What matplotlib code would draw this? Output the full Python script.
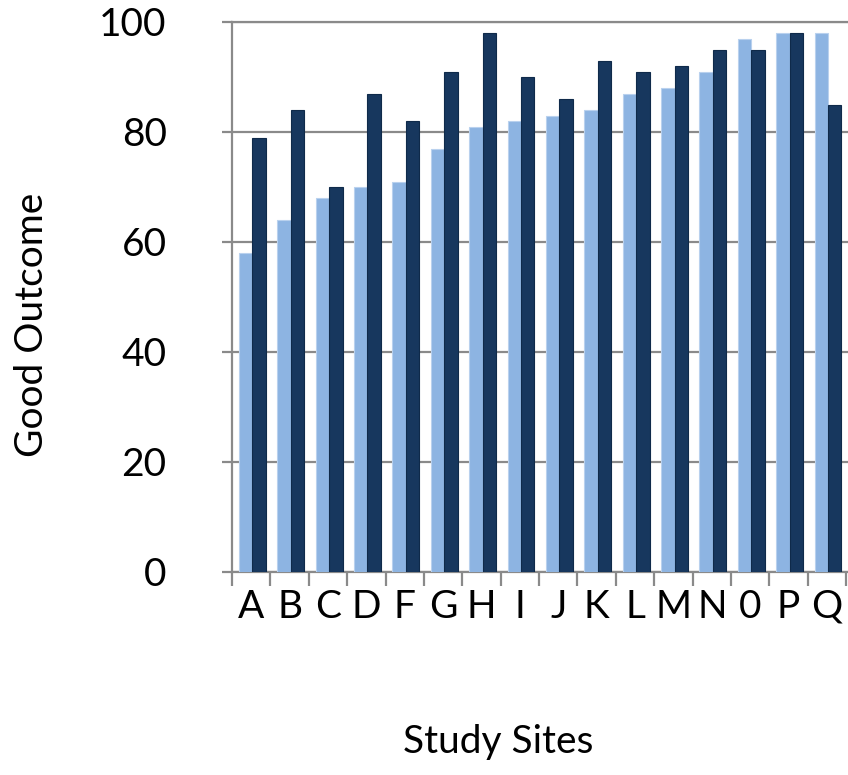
import matplotlib
matplotlib.use("Agg")
import matplotlib.pyplot as plt
import numpy as np

plt.rcParams['font.family'] = ['Lato', 'DejaVu Sans']

sites = ["A", "B", "C", "D", "F", "G", "H", "I", "J", "K", "L", "M", "N", "0", "P", "Q"]
series_light = [58, 64, 68, 70, 71, 77, 81, 82, 83, 84, 87, 88, 91, 97, 98, 98]
series_dark = [79, 84, 70, 87, 82, 91, 98, 90, 86, 93, 91, 92, 95, 95, 98, 85]
yticks = [0, 20, 40, 60, 80, 100]

W, H = 848, 775
fig = plt.figure(figsize=(W / 100, H / 100), dpi=100)
left, right = 232, 848
top, bottom = 22, 572
ax = fig.add_axes([left / W, 1 - bottom / H, (right - left) / W, (bottom - top) / H])

x = np.arange(len(sites))
bw = 0.35
light = "#8DB4E2"
dark = "#17375E"
grid_c = "#8A8A8A"

ax.bar(x - bw / 2 + 0.03, series_light, width=bw, color=light,
       edgecolor="#B9D1EE", linewidth=0.8, zorder=3)
ax.bar(x + bw / 2 + 0.03, series_dark, width=bw, color=dark,
       edgecolor="#0F2A4A", linewidth=0.8, zorder=3)

ax.set_xlim(-0.5, 15.55)
ax.set_ylim(0, 100)
ax.set_yticks(yticks)
ax.set_yticklabels([str(v) for v in yticks])
ax.set_xticks(x)
ax.set_xticklabels(sites)
ax.set_xticks(np.arange(-0.5, 16, 1.0), minor=True)

ax.yaxis.grid(True, color=grid_c, linewidth=1.6, zorder=0)
ax.set_axisbelow(True)

for s in ["left", "bottom", "top"]:
    ax.spines[s].set_color(grid_c)
    ax.spines[s].set_linewidth(1.6)
ax.spines["right"].set_visible(False)

ax.tick_params(axis="y", length=7, width=1.6, color=grid_c, pad=40,
               labelsize=28, labelcolor="black")
ax.tick_params(axis="x", which="major", length=0, pad=12,
               labelsize=28, labelcolor="black")
ax.tick_params(axis="x", which="minor", length=10, width=1.6, color=grid_c)

ax.set_ylabel("Good Outcome", fontsize=28, color="black")
ax.yaxis.set_label_coords((50 - left) / (right - left), (bottom - 325) / (bottom - top))
ax.set_xlabel("Study Sites", fontsize=28, color="black")
ax.xaxis.set_label_coords((498 - left) / (right - left), -(724 - bottom) / (bottom - top))

fig.savefig("out.png", dpi=100)
